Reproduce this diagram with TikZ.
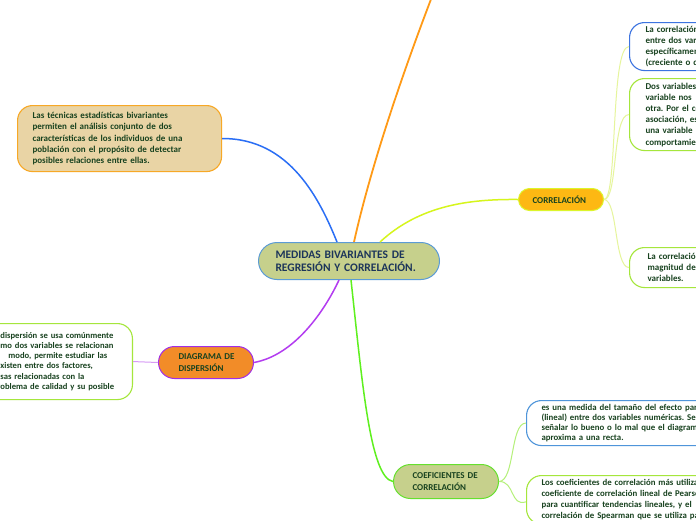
\documentclass[tikz,border=0pt]{standalone}
\usepackage{fontspec}
\setmainfont{Carlito}
\AtBeginDocument{\frenchspacing}
\definecolor{linkblue}{HTML}{2A6EF5}
\definecolor{linkorange}{HTML}{FF9A16}
\definecolor{linkyellow}{HTML}{D6F51C}
\definecolor{linkpurple}{HTML}{B33CF0}
\definecolor{linkgreen}{HTML}{5EF01E}
\definecolor{branchyellow}{HTML}{E6F59C}
\definecolor{branchgreen}{HTML}{B5F07A}
\definecolor{branchpurple}{HTML}{D79AF5}
\definecolor{cfill}{HTML}{C6D08C}
\definecolor{cborder}{HTML}{5B9BD5}
\definecolor{tanfill}{HTML}{E9D4A5}
\definecolor{tanborder}{HTML}{F7A826}
\definecolor{corrfill}{HTML}{FDB813}
\definecolor{corrborder}{HTML}{DDF52A}
\definecolor{diagfill}{HTML}{F28C28}
\definecolor{diagborder}{HTML}{A12EE6}
\definecolor{coefborder}{HTML}{66E02E}
\definecolor{boxblueone}{HTML}{3D74E0}
\definecolor{boxbluetwo}{HTML}{4F95DA}
\definecolor{boxgreen}{HTML}{A5E63C}
\definecolor{txtgreen}{HTML}{18421F}
\definecolor{txtnavy}{HTML}{1C355A}
\tikzset{
  basenode/.style={anchor=north west, align=left, inner ysep=0pt, text=txtgreen,
    font=\bfseries\fontsize{9}{11.2}\selectfont, line width=1.1pt},
  textbox/.style={basenode, draw, fill=white, rounded corners=15pt},
  topic/.style={basenode, draw, line width=1pt},
  mainlink/.style={line width=1.5pt},
  branch/.style={line width=1pt}
}
\begin{document}
\begin{tikzpicture}[x=1pt,y=-1pt]
\useasboundingbox[fill=white] (0,0) rectangle (696,520);

% central node
\node[topic, fill=cfill, draw=cborder, text=txtnavy, rounded corners=18.5pt,
  font=\bfseries\fontsize{11.5}{13}\selectfont,
  minimum width=181pt, minimum height=37pt, inner xsep=17pt, text width=147pt]
  (c) at (258,242) {\mbox{MEDIDAS BIVARIANTES DE}\\\mbox{REGRESIÓN Y CORRELACIÓN.}};

% tan node (left top)
\node[textbox, fill=tanfill, draw=tanborder, minimum width=204pt, minimum height=66pt,
  inner xsep=15pt, text width=174pt] (t) at (17,105)
  {\mbox{Las técnicas estadísticas bivariantes}\\
   \mbox{permiten el análisis conjunto de dos}\\
   \mbox{características de los individuos de una}\\
   \mbox{población con el propósito de detectar}\\
   \mbox{posibles relaciones entre ellas.}};

% CORRELACION
\node[topic, fill=corrfill, draw=corrborder, rounded corners=11pt, minimum width=85pt,
  minimum height=22pt, inner xsep=14pt, text width=57pt] (corr) at (518,188)
  {\mbox{CORRELACIÓN}};

% right boxes of correlacion
\node[textbox, draw=boxblueone, minimum width=200pt, minimum height=48pt,
  inner xsep=16pt, text width=168pt] (r1) at (629,22)
  {\mbox{La correlación}\\
   \mbox{entre dos variables}\\
   \mbox{específicamente}\\
   \mbox{(creciente o decreciente)}};
\node[textbox, draw=boxgreen, minimum width=200pt, minimum height=72pt,
  inner xsep=16pt, text width=168pt] (r2) at (629,78)
  {\mbox{Dos variables}\\
   \mbox{variable nos}\\
   \mbox{otra. Por el contrario}\\
   \mbox{asociación, es}\\
   \mbox{una variable}\\
   \mbox{comportamiento}};
\node[textbox, draw=boxgreen, minimum width=200pt, minimum height=40pt,
  inner xsep=18pt, text width=164pt] (r3) at (629,247)
  {\mbox{La correlación}\\
   \mbox{magnitud de}\\
   \mbox{variables.}};

% DIAGRAMA DE DISPERSION
\node[topic, fill=diagfill, draw=diagborder, rounded corners=16pt, minimum width=95pt,
  minimum height=32pt, inner xsep=20pt, text width=55pt] (diag) at (158,346)
  {\mbox{DIAGRAMA DE}\\\mbox{DISPERSIÓN}};

% left box of diagrama
\node[textbox, draw=boxgreen, anchor=north east, minimum width=150pt, minimum height=76pt,
  inner xsep=18pt, text width=114pt, font=\bfseries\fontsize{8.6}{10.2}\selectfont]
  (lb) at (133,323)
  {\mbox{dispersión se usa comúnmente}\\
   \mbox{\llap{có}mo dos variables se relacionan}\\
   \mbox{\hspace{8pt}modo, permite estudiar las}\\
   \mbox{\llap{e}xisten entre dos factores,}\\
   \mbox{\llap{cau}sas relacionadas con la}\\
   \mbox{\llap{pr}oblema de calidad y su posible}};

% COEFICIENTES
\node[topic, fill=cfill, draw=coefborder, rounded corners=17pt, minimum width=105pt,
  minimum height=34pt, inner xsep=19pt, text width=67pt] (coef) at (393,464)
  {\mbox{COEFICIENTES DE}\\\mbox{CORRELACIÓN}};

% boxes of coeficientes
\node[textbox, draw=boxbluetwo, minimum width=200pt, minimum height=45pt,
  inner xsep=15pt, text width=170pt, font=\bfseries\fontsize{8.8}{10}\selectfont]
  (ba) at (526,400)
  {\mbox{es una medida del tamaño del efecto para}\\
   \mbox{(lineal) entre dos variables numéricas. Se}\\
   \mbox{señalar lo bueno o lo mal que el diagrama}\\
   \mbox{aproxima a una recta.}};
\node[textbox, draw=boxgreen, minimum width=200pt, inner ysep=4pt,
  inner xsep=15pt, text width=170pt, font=\bfseries\fontsize{8.8}{11}\selectfont]
  (bb) at (526,475)
  {\mbox{Los coeficientes de correlación más utilizados}\\
   \mbox{coeficiente de correlación lineal de Pearson}\\
   \mbox{para cuantificar tendencias lineales, y el}\\
   \mbox{correlación de Spearman que se utiliza para}};

\coordinate (topend) at (433,-6);

% main connectors
\draw[mainlink, linkblue] ([xshift=-12pt]c.north) .. controls (320,200) and (290,138) .. (t.east);
\draw[mainlink, linkorange, line width=1.8pt] ([xshift=5pt]c.north) .. controls (370,170) and (400,80) .. (topend);
\draw[mainlink, linkyellow] ([xshift=31pt]c.north) .. controls (420,205) and (470,199) .. (corr.west);
\draw[mainlink, linkpurple] ([xshift=-10pt]c.south) .. controls (325,310) and (295,355) .. (diag.east);
\draw[mainlink, linkgreen] ([xshift=2pt]c.south) .. controls (362,380) and (370,478) .. (coef.west);

% branches
\draw[branch, branchyellow] (corr.east) .. controls (618,200) and (610,46) .. (r1.west);
\draw[branch, branchyellow] (corr.east) .. controls (618,200) and (612,114) .. (r2.west);
\draw[branch, branchyellow] (corr.east) .. controls (618,200) and (614,267) .. (r3.west);
\draw[branch, branchpurple] (diag.west) -- (lb.east);
\draw[branch, branchgreen] (coef.east) .. controls (515,481) and (510,423) .. (ba.west);
\draw[branch, branchgreen] (coef.east) .. controls (515,481) and (510,507) .. ([yshift=-2pt]bb.west);
\end{tikzpicture}
\end{document}
